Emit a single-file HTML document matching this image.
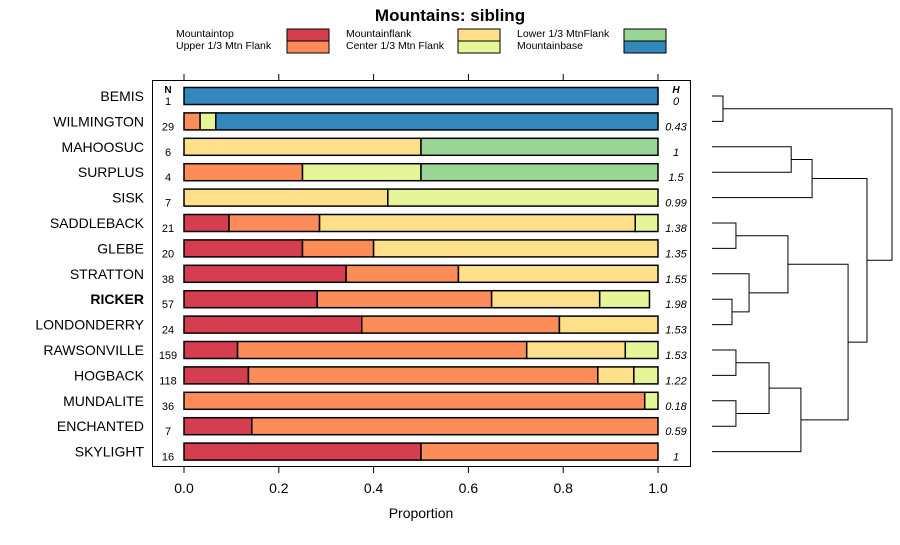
<!DOCTYPE html>
<html><head><meta charset="utf-8"><style>
body{margin:0;background:#fff;font-family:"Liberation Sans",sans-serif;}
svg text{font-family:"Liberation Sans",sans-serif;}
</style></head><body>
<svg id="c" width="900" height="540" xmlns="http://www.w3.org/2000/svg"></svg>
<script>
const categories=["BEMIS","WILMINGTON","MAHOOSUC","SURPLUS","SISK","SADDLEBACK","GLEBE","STRATTON","RICKER","LONDONDERRY","RAWSONVILLE","HOGBACK","MUNDALITE","ENCHANTED","SKYLIGHT"];
const seriesNames=["Mountaintop","Upper 1/3 Mtn Flank","Mountainflank","Center 1/3 Mtn Flank","Lower 1/3 MtnFlank","Mountainbase"];
const colors=["#d53e4f","#fc8d59","#fee08b","#e6f598","#99d594","#3288bd"];
const mountaintop=[0,0,0,0,0,0.095,0.25,0.342,0.281,0.375,0.113,0.136,0,0.143,0.5];
const upperFlank=[0,0.034,0,0.25,0,0.191,0.15,0.237,0.368,0.417,0.610,0.737,0.972,0.857,0.5];
const mountainflank=[0,0,0.5,0,0.43,0.666,0.6,0.421,0.228,0.208,0.208,0.076,0,0,0];
const centerFlank=[0,0.033,0,0.25,0.57,0.048,0,0,0.105,0,0.069,0.051,0.028,0,0];
const lowerFlank=[0,0,0.5,0.5,0,0,0,0,0,0,0,0,0,0,0];
const mountainbase=[1,0.933,0,0,0,0,0,0,0,0,0,0,0,0,0];
const nValues=["1","29","6","4","7","21","20","38","57","24","159","118","36","7","16"];
const hValues=["0","0.43","1","1.5","0.99","1.38","1.35","1.55","1.98","1.53","1.53","1.22","0.18","0.59","1"];
const xTicks=[0,0.2,0.4,0.6,0.8,1.0];
const xTickLabels=["0.0","0.2","0.4","0.6","0.8","1.0"];
// dendrogram merges: [left, right, height]; leaves are indices, nodes "n#"
const merges=[[0,1,0.061],[2,3,0.44],["n1",4,0.556],[5,6,0.133],[8,9,0.111],[7,"n4",0.206],["n3","n5",0.422],[10,11,0.133],[12,13,0.133],["n7","n8",0.317],["n9",14,0.494],["n6","n10",0.756],["n2","n11",0.861],["n0","n12",1.0]];

const S=document.getElementById('c');const NS="http://www.w3.org/2000/svg";
function mk(t,a,txt){const e=document.createElementNS(NS,t);for(const k in a)e.setAttribute(k,a[k]);if(txt!==undefined)e.textContent=txt;S.appendChild(e);return e;}
const x=v=>184+v*474;
const y=i=>96+i*25.4;
const dx=h=>712+h*180;

let t=mk('text',{x:450,y:21,'text-anchor':'middle','font-size':17,'font-weight':'bold'},'Mountains: sibling');

const lx=[[176,287],[346,458],[517,624]];
seriesNames.forEach((n,i)=>{const c=Math.floor(i/2),r=i%2;
 let tt=mk('text',{x:lx[c][0],y:37+r*12,'font-size':10.5},n);
 
 let rr=mk('rect',{x:lx[c][1],y:29+r*12,width:42,height:12,fill:colors[i],stroke:'#000','stroke-width':1});
 });
let bx=mk('rect',{x:152.5,y:80.5,width:538,height:386,fill:'none',stroke:'#000','stroke-width':1});

xTicks.forEach((v,i)=>{
 let l=mk('line',{x1:x(v),x2:x(v),y1:74,y2:80,stroke:'#000'});
 let l2=mk('line',{x1:x(v),x2:x(v),y1:467,y2:473,stroke:'#000'});
 let tl=mk('text',{x:x(v),y:493,'text-anchor':'middle','font-size':14},xTickLabels[i]);});
let xt=mk('text',{x:421,y:518,'text-anchor':'middle','font-size':14},'Proportion');

let nh=mk('text',{x:168,y:93,'text-anchor':'middle','font-size':10,'font-weight':'bold'},'N');
let hh=mk('text',{x:676,y:93,'text-anchor':'middle','font-size':10,'font-weight':'bold','font-style':'italic'},'H');
const series=[mountaintop,upperFlank,mountainflank,centerFlank,lowerFlank,mountainbase];
categories.forEach((c,i)=>{
 let lb=mk('text',{x:144,y:y(i)+5,'text-anchor':'end','font-size':14,'font-weight':c==='RICKER'?'bold':'normal'},c);
 
 let nt=mk('text',{x:168,y:y(i)+9,'text-anchor':'middle','font-size':11},nValues[i]);
 let ht=mk('text',{x:676,y:y(i)+9,'text-anchor':'middle','font-size':11,'font-style':'italic'},hValues[i]);
 let cum=0;
 series.forEach((s,k)=>{const v=s[i];if(v<=0)return;
  let r=mk('rect',{x:x(cum),y:y(i)-8.5,width:x(cum+v)-x(cum),height:17,fill:colors[k],stroke:'#000','stroke-width':1.5});
  cum+=v;});
});
const nodes=[];
function pos(n){return typeof n==='number'?{x:712,y:y(n)}:nodes[+n.slice(1)];}
merges.forEach(m=>{const a=pos(m[0]),b=pos(m[1]),hx=dx(m[2]);
 let p=mk('path',{d:`M${a.x},${a.y}H${hx}V${b.y}H${b.x}`,fill:'none',stroke:'#000','stroke-width':1});
 
 nodes.push({x:hx,y:(a.y+b.y)/2});});
</script>
</body></html>
